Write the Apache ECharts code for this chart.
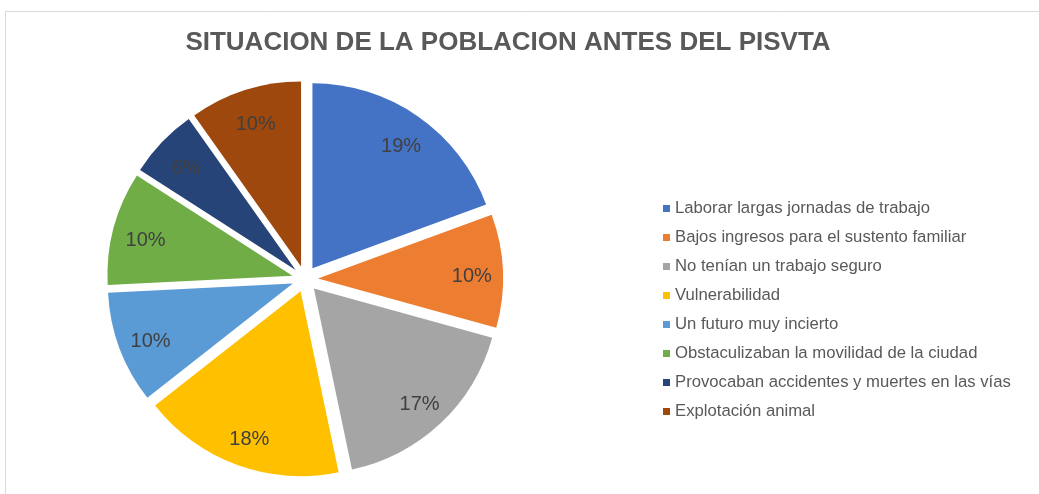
<!DOCTYPE html>
<html><head><meta charset="utf-8">
<script src="https://cdn.jsdelivr.net/npm/echarts@6/dist/echarts.min.js"></script>
<style>html,body{margin:0;padding:0;background:#fff}#c{width:1039px;height:494px}</style>
</head><body><div id="c"></div>
<script>
const titleText = 'SITUACION DE LA POBLACION ANTES DEL PISVTA';
const categories = [
  'Laborar largas jornadas de trabajo',
  'Bajos ingresos para el sustento familiar',
  'No tenían un trabajo seguro',
  'Vulnerabilidad',
  'Un futuro muy incierto',
  'Obstaculizaban la movilidad de la ciudad',
  'Provocaban accidentes y muertes en las vías',
  'Explotación animal'
];
const values = [19.4, 9.9, 17.4, 17.7, 9.8, 9.9, 6.1, 9.8];
const colors = ['#4472C4','#ED7D31','#A5A5A5','#FFC000','#5B9BD5','#70AD47','#264478','#9E480E'];

const chart = echarts.init(document.getElementById('c'), null, {renderer:'canvas'});
const pieData = categories.map((n,i)=>({name:n, value:values[i], selected:true, itemStyle:{color:colors[i]}}));
const labelData = categories.map((n,i)=>({name:n, value:values[i], selected:true}));
chart.setOption({
  animation:false,
  graphic:[{type:'rect', shape:{x:5.5,y:11.5,width:1200,height:700}, style:{fill:'none', stroke:'#d9d9d9', lineWidth:1}, silent:true}],
  title:{text:titleText, left:503, textAlign:'center', top:25,
    textStyle:{fontFamily:'Liberation Sans, sans-serif', fontWeight:'bold', fontSize:26, color:'#595959'}},
  legend:{orient:'vertical', left:658, top:195, icon:'rect', itemWidth:7, itemHeight:7, itemGap:12,
    data:categories,
    textStyle:{fontFamily:'Liberation Sans, sans-serif', fontSize:16.7, color:'#595959', lineHeight:16}},
  series:[
    {type:'pie', center:[305,279], radius:[0,185], startAngle:90, clockwise:true,
     selectedMode:'multiple', selectedOffset:13, label:{show:false}, labelLine:{show:false},
     emphasis:{disabled:true}, silent:true, data:pieData},
    {type:'pie', center:[306,283], radius:[115,185], startAngle:90, clockwise:true,
     selectedMode:'multiple', selectedOffset:13, silent:true, emphasis:{disabled:true},
     legendHoverLink:false, percentPrecision:0,
     itemStyle:{color:'rgba(0,0,0,0)'},
     label:{show:true, position:'inside', formatter:'{d}%', fontFamily:'Liberation Sans, sans-serif', fontSize:20, color:'#404040'},
     labelLine:{show:false}, data:labelData}
  ]
});
</script></body></html>
